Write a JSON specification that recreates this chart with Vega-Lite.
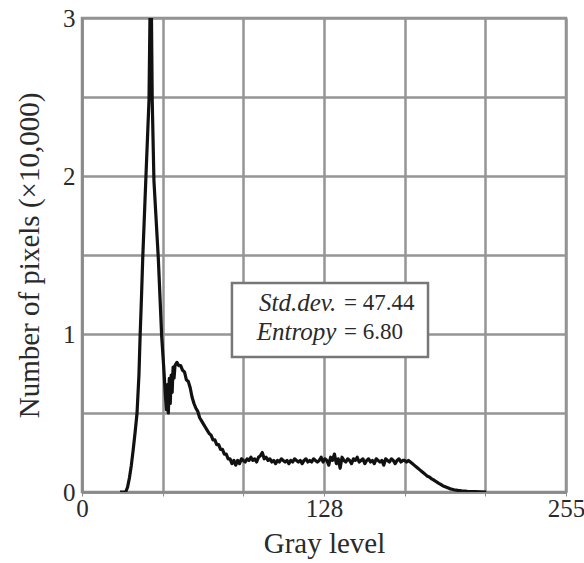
{
  "$schema": "https://vega.github.io/schema/vega-lite/v6.json",
  "width": 484,
  "height": 474,
  "autosize": "none",
  "padding": {"left": 82, "top": 18, "right": 18, "bottom": 71},
  "background": "white",
  "config": {
    "view": {"stroke": "#8a8a8a", "strokeWidth": 2.5},
    "font": "Liberation Serif",
    "axis": {
      "labelFont": "Liberation Serif",
      "titleFont": "Liberation Serif",
      "labelColor": "#2a2a2a",
      "titleColor": "#2a2a2a",
      "titleFontWeight": "normal",
      "gridColor": "#959595",
      "gridWidth": 2.5,
      "gridOpacity": 1,
      "domainColor": "#8a8a8a",
      "domainWidth": 2.5,
      "tickColor": "#8a8a8a"
    }
  },
  "datasets": {
    "hist": [
      {"g": 20, "n": 0}, {"g": 23, "n": 0}, {"g": 24, "n": 0.03}, {"g": 25, "n": 0.09}, {"g": 26, "n": 0.17},
      {"g": 27, "n": 0.27}, {"g": 28, "n": 0.38}, {"g": 29, "n": 0.5}, {"g": 30, "n": 0.74}, {"g": 30.6, "n": 0.98},
      {"g": 31.3, "n": 1.22}, {"g": 32, "n": 1.48}, {"g": 33.6, "n": 1.97}, {"g": 35.3, "n": 2.48}, {"g": 36, "n": 3.2},
      {"g": 36.3, "n": 3.6}, {"g": 36.6, "n": 3.0}, {"g": 37, "n": 2.48}, {"g": 37.9, "n": 1.97}, {"g": 40.2, "n": 1.48},
      {"g": 42, "n": 0.98}, {"g": 43, "n": 0.8}, {"g": 43.5, "n": 0.7}, {"g": 44, "n": 0.6}, {"g": 44.5, "n": 0.52},
      {"g": 45, "n": 0.68}, {"g": 45.5, "n": 0.5}, {"g": 46, "n": 0.72}, {"g": 46.5, "n": 0.56}, {"g": 47, "n": 0.74},
      {"g": 47.5, "n": 0.63}, {"g": 48, "n": 0.79}, {"g": 48.5, "n": 0.72}, {"g": 49, "n": 0.8}, {"g": 50, "n": 0.82},
      {"g": 51, "n": 0.8}, {"g": 52, "n": 0.8}, {"g": 53, "n": 0.77}, {"g": 54, "n": 0.76}, {"g": 55, "n": 0.71},
      {"g": 56, "n": 0.7}, {"g": 57, "n": 0.66}, {"g": 58, "n": 0.6}, {"g": 59, "n": 0.56}, {"g": 60, "n": 0.53},
      {"g": 61, "n": 0.51}, {"g": 62, "n": 0.47}, {"g": 63, "n": 0.45}, {"g": 64, "n": 0.43}, {"g": 65, "n": 0.41},
      {"g": 66, "n": 0.39}, {"g": 67, "n": 0.37}, {"g": 68, "n": 0.36}, {"g": 69, "n": 0.33}, {"g": 70, "n": 0.33},
      {"g": 71, "n": 0.3}, {"g": 72, "n": 0.3}, {"g": 73, "n": 0.27}, {"g": 74, "n": 0.27}, {"g": 75, "n": 0.24},
      {"g": 76, "n": 0.24}, {"g": 77, "n": 0.21}, {"g": 78, "n": 0.21}, {"g": 79, "n": 0.18}, {"g": 80, "n": 0.2},
      {"g": 81, "n": 0.17}, {"g": 82, "n": 0.2}, {"g": 83, "n": 0.18}, {"g": 84, "n": 0.21}, {"g": 85, "n": 0.2},
      {"g": 86, "n": 0.19}, {"g": 87, "n": 0.21}, {"g": 88, "n": 0.2}, {"g": 89, "n": 0.22}, {"g": 90, "n": 0.2},
      {"g": 91, "n": 0.21}, {"g": 92, "n": 0.19}, {"g": 93, "n": 0.22}, {"g": 94, "n": 0.23}, {"g": 95, "n": 0.25},
      {"g": 96, "n": 0.21}, {"g": 97, "n": 0.22}, {"g": 98, "n": 0.2}, {"g": 99, "n": 0.21}, {"g": 100, "n": 0.19},
      {"g": 101, "n": 0.2}, {"g": 102, "n": 0.18}, {"g": 103, "n": 0.2}, {"g": 104, "n": 0.19}, {"g": 105, "n": 0.21},
      {"g": 106, "n": 0.2}, {"g": 107, "n": 0.19}, {"g": 108, "n": 0.2}, {"g": 109, "n": 0.18}, {"g": 110, "n": 0.2},
      {"g": 111, "n": 0.19}, {"g": 112, "n": 0.21}, {"g": 113, "n": 0.2}, {"g": 114, "n": 0.19}, {"g": 115, "n": 0.2},
      {"g": 116, "n": 0.18}, {"g": 117, "n": 0.2}, {"g": 118, "n": 0.21}, {"g": 119, "n": 0.19}, {"g": 120, "n": 0.2},
      {"g": 121, "n": 0.19}, {"g": 122, "n": 0.21}, {"g": 123, "n": 0.2}, {"g": 124, "n": 0.19}, {"g": 125, "n": 0.2},
      {"g": 126, "n": 0.22}, {"g": 127, "n": 0.19}, {"g": 128, "n": 0.21}, {"g": 129, "n": 0.2}, {"g": 130, "n": 0.17},
      {"g": 131, "n": 0.22}, {"g": 132, "n": 0.2}, {"g": 133, "n": 0.24}, {"g": 134, "n": 0.18}, {"g": 135, "n": 0.21},
      {"g": 136, "n": 0.15}, {"g": 137, "n": 0.22}, {"g": 138, "n": 0.2}, {"g": 139, "n": 0.19}, {"g": 140, "n": 0.21},
      {"g": 141, "n": 0.2}, {"g": 142, "n": 0.18}, {"g": 143, "n": 0.21}, {"g": 144, "n": 0.2}, {"g": 145, "n": 0.22},
      {"g": 146, "n": 0.19}, {"g": 147, "n": 0.2}, {"g": 148, "n": 0.21}, {"g": 149, "n": 0.18}, {"g": 150, "n": 0.2},
      {"g": 151, "n": 0.21}, {"g": 152, "n": 0.19}, {"g": 153, "n": 0.2}, {"g": 154, "n": 0.18}, {"g": 155, "n": 0.21},
      {"g": 156, "n": 0.2}, {"g": 157, "n": 0.19}, {"g": 158, "n": 0.2}, {"g": 159, "n": 0.17}, {"g": 160, "n": 0.21},
      {"g": 161, "n": 0.2}, {"g": 162, "n": 0.19}, {"g": 163, "n": 0.21}, {"g": 164, "n": 0.2}, {"g": 165, "n": 0.18},
      {"g": 166, "n": 0.2}, {"g": 167, "n": 0.21}, {"g": 168, "n": 0.19}, {"g": 169, "n": 0.2}, {"g": 170, "n": 0.2},
      {"g": 171, "n": 0.19}, {"g": 172, "n": 0.2}, {"g": 173, "n": 0.19}, {"g": 174, "n": 0.18}, {"g": 175, "n": 0.17},
      {"g": 176, "n": 0.16}, {"g": 177, "n": 0.15}, {"g": 178, "n": 0.14}, {"g": 179, "n": 0.13}, {"g": 180, "n": 0.12},
      {"g": 181, "n": 0.11}, {"g": 182, "n": 0.1}, {"g": 183, "n": 0.095}, {"g": 184, "n": 0.085}, {"g": 185, "n": 0.078},
      {"g": 186, "n": 0.07}, {"g": 187, "n": 0.063}, {"g": 188, "n": 0.055}, {"g": 189, "n": 0.048}, {"g": 190, "n": 0.04},
      {"g": 191, "n": 0.035}, {"g": 192, "n": 0.03}, {"g": 193, "n": 0.025}, {"g": 194, "n": 0.02}, {"g": 195, "n": 0.017},
      {"g": 196, "n": 0.014}, {"g": 197, "n": 0.012}, {"g": 198, "n": 0.01}, {"g": 200, "n": 0.007}, {"g": 203, "n": 0.004},
      {"g": 207, "n": 0.002}, {"g": 213, "n": 0}
    ]
  },
  "layer": [
    {
      "data": {"values": [{"x1": 79, "x2": 182.3, "y1": 0.854, "y2": 1.323}]},
      "mark": {"type": "rect", "fill": "white", "stroke": "#777", "strokeWidth": 2.5},
      "encoding": {
        "x": {"field": "x1", "type": "quantitative"},
        "x2": {"field": "x2"},
        "y": {"field": "y1", "type": "quantitative"},
        "y2": {"field": "y2"}
      }
    },
    {
      "data": {"name": "hist"},
      "mark": {"type": "line", "color": "#111", "strokeWidth": 3.2, "clip": true, "strokeJoin": "round"},
      "encoding": {
        "x": {
          "field": "g", "type": "quantitative",
          "scale": {"domain": [0, 255], "nice": false, "zero": false},
          "axis": {
            "title": "Gray level",
            "titleFontSize": 29,
            "titlePadding": 8,
            "labelFontSize": 25,
            "labelPadding": 0,
            "tickSize": 4,
            "values": [0, 42.5, 85, 127.5, 170, 212.5, 255],
            "labelExpr": "datum.value == 0 ? '0' : datum.value == 127.5 ? '128' : datum.value == 255 ? '255' : ''",
            "labelOverlap": false,
            "labelFlush": false
          }
        },
        "y": {
          "field": "n", "type": "quantitative",
          "scale": {"domain": [0, 3], "nice": false},
          "axis": {
            "title": "Number of pixels (×10,000)",
            "titleFontSize": 29,
            "titlePadding": 18,
            "labelFontSize": 25,
            "labelPadding": 7,
            "ticks": false,
            "values": [0, 0.5, 1, 1.5, 2, 2.5, 3],
            "labelExpr": "datum.value % 1 == 0 ? format(datum.value, 'd') : ''",
            "labelOverlap": false,
            "labelFlush": false
          }
        },
        "order": {"field": "g", "type": "quantitative"}
      }
    },
    {
      "data": {"values": [{"x": 134, "y": 1.196, "t": "Std.dev."}, {"x": 134, "y": 1.013, "t": "Entropy"}]},
      "mark": {"type": "text", "align": "right", "baseline": "middle", "fontSize": 25, "fontStyle": "italic", "font": "Liberation Serif", "color": "#2a2a2a"},
      "encoding": {
        "x": {"field": "x", "type": "quantitative"},
        "y": {"field": "y", "type": "quantitative"},
        "text": {"field": "t"}
      }
    },
    {
      "data": {"values": [{"x": 138, "y": 1.196, "t": "= 47.44"}, {"x": 138, "y": 1.013, "t": "= 6.80"}]},
      "mark": {"type": "text", "align": "left", "baseline": "middle", "fontSize": 23, "font": "Liberation Serif", "color": "#2a2a2a"},
      "encoding": {
        "x": {"field": "x", "type": "quantitative"},
        "y": {"field": "y", "type": "quantitative"},
        "text": {"field": "t"}
      }
    }
  ]
}
